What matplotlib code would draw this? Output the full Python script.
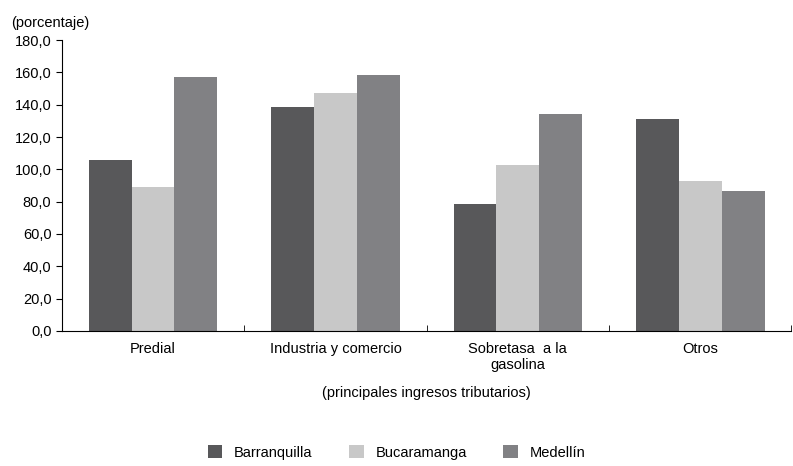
import numpy as np
import matplotlib
matplotlib.use("Agg")
import matplotlib.pyplot as plt

plt.rcParams['font.family'] = ['Liberation Sans Narrow', 'Liberation Sans', 'DejaVu Sans']
plt.rcParams['font.size'] = 10.5

categories = ["Predial", "Industria y comercio", "Sobretasa  a la\ngasolina", "Otros"]
series = ["Barranquilla", "Bucaramanga", "Medellín"]
barranquilla = [106.0, 138.5, 78.5, 131.0]
bucaramanga = [89.0, 147.5, 102.5, 92.5]
medellin = [157.0, 158.5, 134.5, 86.5]
colors = ["#58585a", "#c8c8c8", "#818184"]

fig = plt.figure(figsize=(7.93, 4.66), dpi=100)
ax = fig.add_axes([0.078, 0.29, 0.92, 0.624])

x = np.arange(len(categories))
w = 0.235
for i, (vals, name) in enumerate(zip([barranquilla, bucaramanga, medellin], series)):
    ax.bar(x + (i - 1) * w, vals, w, color=colors[i], label=name)

ax.set_ylim(0, 180)
ax.set_xlim(-0.5, 3.5)
ax.set_yticks(np.arange(0, 181, 20))
ax.set_yticklabels([f"{v:.1f}".replace(".", ",") for v in np.arange(0, 181, 20)])
ax.set_xticks(x)
ax.set_xticklabels(categories, va="top")
ax.set_xticks(np.arange(-0.5, 3.6, 1), minor=True)
ax.tick_params(axis="x", which="major", length=0, pad=8)
ax.tick_params(axis="x", which="minor", length=4, direction="in")
ax.tick_params(axis="y", length=4)
for s in ["top", "right"]:
    ax.spines[s].set_visible(False)

ax.text(-0.07, 1.035, "(porcentaje)", transform=ax.transAxes, ha="left", va="bottom")
ax.set_xlabel("(principales ingresos tributarios)", labelpad=10)
fig.legend(loc="lower center", ncol=3, frameon=False, bbox_to_anchor=(0.5, -0.015),
           handlelength=1.0, handleheight=1.0, columnspacing=2.5)

fig.savefig("out.png", dpi=100)
